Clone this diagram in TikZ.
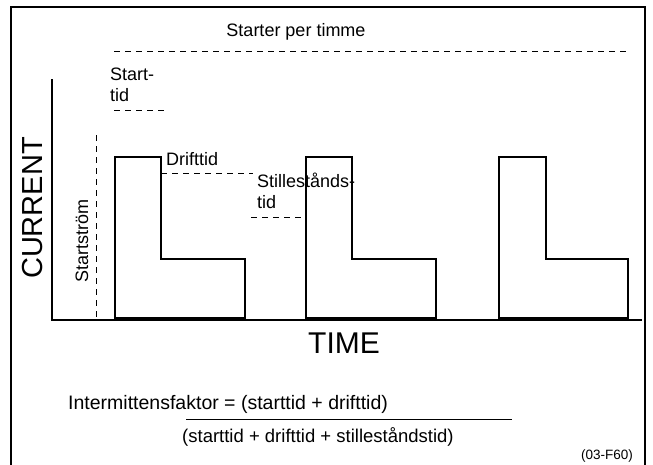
\documentclass[tikz,border=0pt]{standalone}
\usepackage{fontspec}
\setmainfont{Liberation Sans}
\begin{document}
\begin{tikzpicture}[x=1pt,y=-1pt,
  lbl/.style={inner sep=0pt,font=\fontsize{18}{21}\selectfont},
  big/.style={inner sep=0pt,font=\fontsize{29}{31}\selectfont},
  pulse/.style={line width=2.6pt,line join=miter},
  axis/.style={line width=1.1pt},
  guide/.style={line width=0.9pt,dash pattern=on 6pt off 5pt},
  frame/.style={line width=2.4pt}]
\useasboundingbox (0,0) rectangle (653,464);
\fill[white] (0,0) rectangle (653,464);
% outer frame, open at the bottom
\draw[frame] (11,466) -- (11,7) -- (645,7) -- (645,466);

% axes
\coordinate (ytop) at (52,79);
\coordinate (org) at (52,320);
\coordinate (xend) at (642,320);
\draw[axis] (ytop) -- (org) -- (xend);

% axis titles
\node[big,rotate=90] (cur) at (33,208) {CURRENT};
\node[big,font=\fontsize{30}{32}\selectfont] (time) at (344,343) {TIME};

% current pulses
\foreach \a/\b/\c in {115/161/245, 306/352/436, 499/546/628}{
  \draw[pulse] (\a,318) -- (\a,157) -- (\b,157) -- (\b,259) -- (\c,259) -- (\c,318) -- cycle;
}

% start current guide
\coordinate (ss1) at (96,135);
\coordinate (ss2) at (96,320);
\draw[guide] (ss1) -- (ss2);
\node[lbl,rotate=90] (sstr) at (82,241) {Startström};

% starts per hour
\node[lbl] (sph) at (296,32) {Starter per timme};
\coordinate (sph1) at (114,51);
\coordinate (sph2) at (630,51);
\draw[guide] (sph1) -- (sph2);

% start time
\node[lbl,anchor=north west,align=left] (st) at (110,68) {Start-\\tid};
\coordinate (st1) at (114,110);
\coordinate (st2) at (165,110);
\draw[guide] (st1) -- (st2);

% running time
\node[lbl,anchor=base west] (dt) at (166,165) {Drifttid};
\coordinate (dt1) at (161,173);
\coordinate (dt2) at (253,173);
\draw[guide] (dt1) -- (dt2);

% idle time
\node[lbl,anchor=north west,align=left] (it) at (257,173) {Stillestånds-\\tid};
\coordinate (it1) at (251,217);
\coordinate (it2) at (303,217);
\draw[guide] (it1) -- (it2);

% formula
\node[lbl,anchor=base west,font=\fontsize{19.5}{22}\selectfont] (num) at (68,409) {Intermittensfaktor = (starttid + drifttid)};
\coordinate (fr1) at (186,419);
\coordinate (fr2) at (512,419);
\draw[line width=0.9pt] (fr1) -- (fr2);
\node[lbl,anchor=base west,font=\fontsize{18.5}{21}\selectfont] (den) at (182,442) {(starttid + drifttid + stilleståndstid)};
\node[inner sep=0pt,anchor=base east,font=\fontsize{13.5}{15}\selectfont] (ref) at (633,459) {(03-F60)};
\end{tikzpicture}
\end{document}
